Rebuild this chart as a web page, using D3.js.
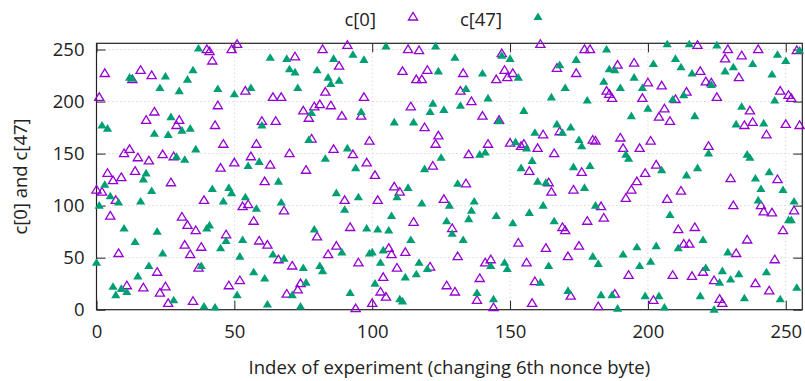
<!DOCTYPE html>
<html>
<head>
<meta charset="utf-8">
<script src="https://cdn.jsdelivr.net/npm/d3@7"></script>
<style>
  body { margin: 0; background: #fff; }
  svg text { font-family: "Open Sans", "Noto Sans", sans-serif; fill: #222; }
</style>
</head>
<body>
<svg id="chart" width="805" height="381"></svg>
<script>
// values, one per experiment index (null = not visible)
const c0 = [
  115, 204, 113, 227, 131, 90, 124, 105, 54, 127,
  150, 23, 154, 221, 133, 146, 230, 21, 182, 143,
  225, 190, 36, 16, 149, 22, 6, 122, 147, 177,
  182, 89, 62, 81, 53, 8, 76, 40, 60, 105,
  250, 248, 239, 177, 196, 136, 159, 72, 23, 250,
  141, 255, 28, 99, 210, 101, 147, 85, 159, 66,
  181, 123, 62, 139, 204, 181, 48, 204, 95, 15,
  150, 42, 243, 19, 25, 191, 134, 184, 164, 195,
  70, 197, 250, 209, 53, 196, 154, 61, 234, 186,
  105, 254, 79, 149, 1, 45, 186, 204, 141, 162,
  6, 129, 105, 17, 31, 12, 59, 53, 118, 40,
  113, 229, 55, 250, 195, 84, 221, 249, 221, 175,
  230, 41, 138, 159, 167, null, 106, 23, null, 78,
  17, 51, 210, 227, 121, 149, 200, null, 9, 30,
  186, 45, 159, 48, 2, 221, 182, 246, 230, 223,
  160, 227, null, 64, 157, 159, 45, 133, 6, 27,
  155, 255, 168, 59, 122, 113, 150, 232, 171, 79,
  76, 51, 13, 115, 227, 61, 132, 250, 85, 250,
  163, 162, 3, 99, 88, 210, 207, 203, 15, 235,
  165, 155, 107, 33, 115, 237, 123, 155, 203, 131,
  218, 162, 9, 139, 185, 215, 193, 106, 181, 33,
  202, 77, 114, 63, 209, 63, 32, 79, 254, 229,
  36, 219, 157, 218, 28, 204, 10, 6, 241, 250,
  126, 100, 54, 223, 244, 177, 67, 191, 180, 25,
  250, 100, 94, 168, 18, 93, 48, 125, 210, 76,
  178, 206, 203, 95, 249, 177
];

const c47 = [
  45, 100, 177, 120, 174, 109, 22, 14, 103, 20,
  78, 17, 223, 222, 65, 32, 104, 125, 131, 42,
  114, 169, 75, 213, 54, 224, 168, 185, 9, 147,
  210, 172, 144, 221, 174, 230, 154, 251, 42, 3,
  78, 81, 116, 2, 212, 59, 104, 66, 117, 112,
  207, 14, 51, 67, 108, 138, 213, 36, 97, 142,
  177, 30, 5, 242, 53, null, 123, 103, 49, 241,
  231, 14, 228, 213, 3, 40, 26, 163, 189, 77,
  230, 42, 37, 145, 223, 217, 241, 112, 220, 55,
  96, 155, 16, 245, 136, 108, 190, 240, 78, 54,
  55, 25, 77, 45, 57, 253, 76, 90, 180, 108,
  10, 8, 31, 117, 67, 180, 34, 45, 102, 135,
  39, 190, 198, 253, 229, 146, 192, 85, 100, 73,
  242, 121, 196, 67, 212, 87, 95, 104, 16, 149,
  227, 151, 203, 42, 10, 90, 181, 244, 45, 39,
  241, 83, 161, 223, 136, 191, 155, 93, 143, 170,
  123, 26, 100, 122, 42, 204, 85, 178, 235, 170,
  213, 18, 175, 137, 240, 163, 157, 117, 201, 138,
  51, 100, 44, 14, 219, 250, 231, 14, 230, 1,
  213, 53, 149, 145, 186, 223, 60, 42, 213, 13,
  193, 46, 236, 61, 13, 134, 2, 255, 91, 202,
  241, 59, 233, 206, 129, 255, 227, 186, 136, 13,
  67, 40, 150, 216, 0, 254, 26, 37, 229, 55,
  29, 233, 178, 34, 195, 11, 149, 146, 236, 126,
  105, 116, 179, 36, 132, 226, 201, 245, 10, 115,
  239, 86, 86, 104, 21, 249
];

const xTicks = [0, 50, 100, 150, 200, 250];
const yTicks = [0, 50, 100, 150, 200, 250];
const seriesNames = ["c[0]", "c[47]"];

const svg = d3.select("#chart");
const fontSize = 18.5;

// plot frame (like gnuplot: 0..256 on both axes)
const margin = { top: 43.3, right: 2.7, bottom: 71.3, left: 96.5 };
const width = 805 - margin.left - margin.right;
const height = 381 - margin.top - margin.bottom;

const x = d3.scaleLinear().domain([0, 256]).range([margin.left, margin.left + width]);
const y = d3.scaleLinear().domain([0, 256]).range([margin.top + height, margin.top]);

const tri = "M0,-4.6L4.6,3L-4.6,3Z";

// grid
svg.append("g")
  .selectAll("line")
  .data(xTicks.filter(d => d > 0))
  .join("line")
  .attr("x1", d => x(d)).attr("x2", d => x(d))
  .attr("y1", y(0)).attr("y2", y(256))
  .attr("stroke", "#c4c4c4")
  .attr("stroke-width", 1)
  .attr("stroke-dasharray", "1,3");

svg.append("g")
  .selectAll("line")
  .data(yTicks.filter(d => d > 0))
  .join("line")
  .attr("x1", x(0)).attr("x2", x(256))
  .attr("y1", d => y(d)).attr("y2", d => y(d))
  .attr("stroke", "#c4c4c4")
  .attr("stroke-width", 1)
  .attr("stroke-dasharray", "1,3");

// axes, ticks pointing inwards
const tickLen = 9;
svg.append("g")
  .attr("transform", `translate(0,${y(0)})`)
  .call(d3.axisBottom(x).tickValues(xTicks).tickSize(-tickLen).tickPadding(15))
  .call(g => g.select(".domain").remove())
  .call(g => g.selectAll("text").attr("font-size", fontSize).attr("fill", "#222"))
  .call(g => g.selectAll("line").attr("stroke", "#222"));

svg.append("g")
  .attr("transform", `translate(0,${y(256)})`)
  .call(d3.axisTop(x).tickValues(xTicks).tickSize(-tickLen).tickFormat(""))
  .call(g => g.select(".domain").remove())
  .call(g => g.selectAll("line").attr("stroke", "#222"));

svg.append("g")
  .attr("transform", `translate(${x(0)},0)`)
  .call(d3.axisLeft(y).tickValues(yTicks).tickSize(-tickLen).tickPadding(12))
  .call(g => g.select(".domain").remove())
  .call(g => g.selectAll("text").attr("font-size", fontSize).attr("fill", "#222"))
  .call(g => g.selectAll("line").attr("stroke", "#222"));

svg.append("g")
  .attr("transform", `translate(${x(256)},0)`)
  .call(d3.axisRight(y).tickValues(yTicks).tickSize(-tickLen).tickFormat(""))
  .call(g => g.select(".domain").remove())
  .call(g => g.selectAll("line").attr("stroke", "#222"));

// border
svg.append("rect")
  .attr("x", x(0)).attr("y", y(256))
  .attr("width", x(256) - x(0)).attr("height", y(0) - y(256))
  .attr("fill", "none")
  .attr("stroke", "#222")
  .attr("stroke-width", 1.2);

// points
svg.append("g")
  .selectAll("path")
  .data(c0.map((v, i) => [i, v]).filter(d => d[1] !== null))
  .join("path")
  .attr("d", tri)
  .attr("transform", d => `translate(${x(d[0])},${y(d[1])})`)
  .attr("fill", "none")
  .attr("stroke", "#9400d3")
  .attr("stroke-width", 1.3);

svg.append("g")
  .selectAll("path")
  .data(c47.map((v, i) => [i, v]).filter(d => d[1] !== null))
  .join("path")
  .attr("d", tri)
  .attr("transform", d => `translate(${x(d[0])},${y(d[1])})`)
  .attr("fill", "#009e73");

// legend
const legend = svg.append("g").attr("font-size", fontSize);
const legendPos = [{ tx: 376, mx: 413 }, { tx: 502, mx: 538 }];
seriesNames.forEach((name, i) => {
  legend.append("text")
    .attr("x", legendPos[i].tx)
    .attr("y", 26)
    .attr("text-anchor", "end")
    .text(name);
  legend.append("path")
    .attr("d", tri)
    .attr("transform", `translate(${legendPos[i].mx},17)`)
    .attr("fill", i === 0 ? "none" : "#009e73")
    .attr("stroke", i === 0 ? "#9400d3" : "none")
    .attr("stroke-width", 1.3);
});

// axis titles
svg.append("text")
  .attr("x", x(128))
  .attr("y", 374)
  .attr("text-anchor", "middle")
  .attr("font-size", fontSize)
  .text("Index of experiment (changing 6th nonce byte)");

svg.append("text")
  .attr("transform", `translate(27,${y(128)}) rotate(-90)`)
  .attr("text-anchor", "middle")
  .attr("font-size", fontSize)
  .text("c[0] and c[47]");
</script>
</body>
</html>
